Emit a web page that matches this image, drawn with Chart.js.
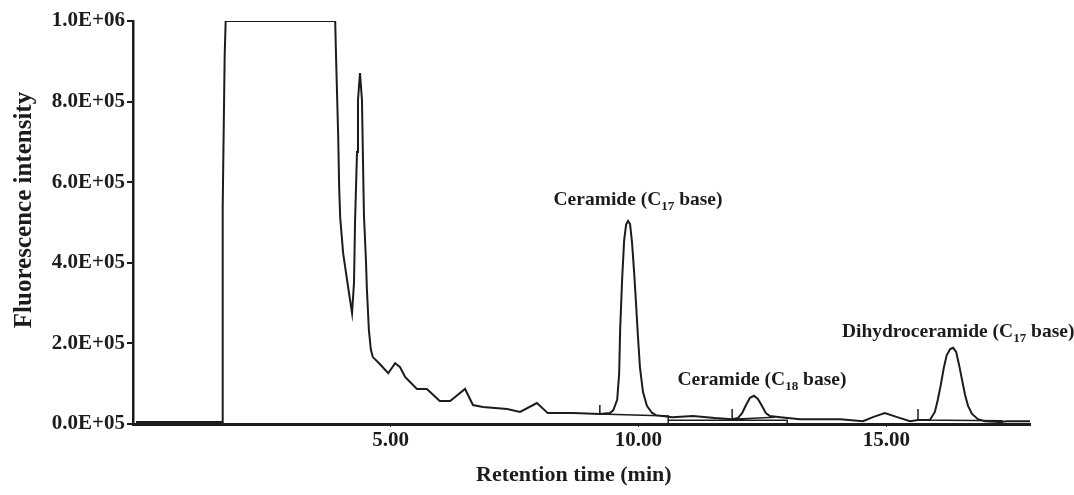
<!DOCTYPE html>
<html>
<head>
<meta charset="utf-8">
<script src="https://cdn.jsdelivr.net/npm/chart.js@4.4.1/dist/chart.umd.min.js"></script>
<style>
  html, body { margin: 0; padding: 0; background: #fff; }
</style>
</head>
<body>
<canvas id="chart" width="1074" height="495"></canvas>
<script>
// retention time (min) and fluorescence signal of the trace
const times = [-0.14, 1.60, 1.61, 1.65, 1.67, 3.88, 3.90, 3.94, 3.96, 3.98, 4.04, 4.14, 4.22, 4.26, 4.28, 4.32, 4.34, 4.38, 4.42, 4.44,
  4.46, 4.50, 4.52, 4.56, 4.60, 4.64, 4.78, 4.95, 5.09, 5.19, 5.29, 5.53, 5.73, 5.99, 6.20, 6.30, 6.50, 6.66, 6.86, 7.35,
  7.61, 7.95, 8.17, 8.68, 9.22, 9.42, 9.49, 9.57, 9.61, 9.63, 9.67, 9.71, 9.75, 9.79, 9.83, 9.87, 9.91, 9.95, 9.99, 10.03,
  10.09, 10.17, 10.27, 10.35, 10.68, 11.10, 11.54, 11.89, 12.01, 12.09, 12.17, 12.25, 12.33, 12.41, 12.49, 12.57, 12.65, 12.86, 13.26, 14.07,
  14.53, 14.73, 14.97, 15.22, 15.48, 15.64, 15.88, 15.98, 16.04, 16.10, 16.16, 16.22, 16.29, 16.35, 16.41, 16.47, 16.53, 16.59, 16.65, 16.73,
  16.85, 16.99, 17.29, 17.44, 17.90];
const intensity = [5000, 5000, 540000, 915000, 1000000, 1000000, 898000, 717000, 588000, 514000, 424000, 340000, 275000, 352000, 499000, 675000, 804000, 871000, 804000, 660000,
  519000, 407000, 333000, 233000, 184000, 166000, 149000, 126000, 151000, 141000, 117000, 87000, 87000, 57000, 57000, 67000, 87000, 47000, 42000, 37000,
  30000, 52000, 27000, 27000, 25000, 27000, 34000, 60000, 125000, 235000, 360000, 455000, 495000, 504000, 496000, 450000, 380000, 300000, 215000, 140000,
  80000, 45000, 28000, 22000, 17000, 20000, 15000, 12000, 15000, 27000, 47000, 65000, 70000, 62000, 45000, 27000, 20000, 17000, 12000, 12000,
  7000, 17000, 27000, 17000, 7000, 10000, 10000, 30000, 60000, 97000, 139000, 171000, 186000, 189000, 179000, 146000, 109000, 72000, 45000, 25000,
  12000, 7000, 5000, 7000, 7000];

// integration events: markers, baselines and drop lines (null = break)
const eventTimes = [9.22, 9.22, 10.60, 10.60, 10.60, 10.60, 13.00, 13.00, 13.00, 11.89, 11.89, 12.75, 12.75, 15.64, 15.64, 17.33, 17.33];
const eventValues = [47000, 25000, 20000, 0, null, 9000, 9000, 0, null, 37000, 12000, 17000, null, 37000, 10000, 8000, 0];

// axes
const xMin = -0.2;
const xMax = 17.9;
const xTicks = [5, 10, 15];
const yTicks = [0, 200000, 400000, 600000, 800000, 1000000];
const yTickLabels = ['0.0E+05', '2.0E+05', '4.0E+05', '6.0E+05', '8.0E+05', '1.0E+06'];

// peak labels
const labelTimes = [9.99, 12.49, 16.45];
const labelValues = [543000, 97000, 216000];
const labelMain = ['Ceramide (C', 'Ceramide (C', 'Dihydroceramide (C'];
const labelSub = ['17', '18', '17'];
const labelTail = [' base)', ' base)', ' base)'];

const serif = '"Liberation Serif", "Times New Roman", serif';
const ink = '#1c1c1c';

const peakLabels = {
    id: 'peakLabels',
    afterDatasetsDraw(chart) {
        const ctx = chart.ctx;
        const x = chart.scales.x;
        const y = chart.scales.y;
        const big = 'bold 19.5px ' + serif;
        const small = 'bold 13px ' + serif;
        ctx.save();
        ctx.fillStyle = ink;
        ctx.textBaseline = 'alphabetic';
        ctx.textAlign = 'left';
        labelTimes.forEach((t, i) => {
            const parts = [[labelMain[i], big, 0], [labelSub[i], small, 5], [labelTail[i], big, 0]];
            let total = 0;
            parts.forEach(p => { ctx.font = p[1]; total += ctx.measureText(p[0]).width; });
            let px = x.getPixelForValue(t) - total / 2;
            const py = y.getPixelForValue(labelValues[i]);
            parts.forEach(p => {
                ctx.font = p[1];
                ctx.fillText(p[0], px, py + p[2]);
                px += ctx.measureText(p[0]).width;
            });
        });
        ctx.restore();
    }
};

const trace = times.map((t, i) => ({ x: t, y: intensity[i] }));
const events = eventTimes.map((t, i) => ({ x: t, y: eventValues[i] }));

new Chart(document.getElementById('chart'), {
    type: 'scatter',
    data: {
        datasets: [{
            data: trace,
            showLine: true,
            borderColor: ink,
            borderWidth: 2,
            pointRadius: 0,
            tension: 0
        }, {
            data: events,
            showLine: true,
            spanGaps: false,
            borderColor: ink,
            borderWidth: 1.5,
            pointRadius: 0,
            tension: 0
        }]
    },
    options: {
        responsive: false,
        animation: false,
        layout: { padding: { top: 21, right: 44, left: 0, bottom: 0 } },
        plugins: {
            legend: { display: false },
            tooltip: { enabled: false }
        },
        scales: {
            x: {
                type: 'linear',
                min: xMin,
                max: xMax,
                afterBuildTicks: s => { s.ticks = xTicks.map(v => ({ value: v })); },
                afterFit: s => { s.height = 71; },
                border: { display: true, color: ink, width: 3 },
                grid: { drawOnChartArea: false, drawTicks: true, tickLength: 3, color: ink },
                ticks: {
                    padding: 1,
                    color: ink,
                    font: { family: serif, size: 21, weight: 'bold' },
                    callback: v => v.toFixed(2)
                },
                title: {
                    display: true,
                    text: 'Retention time (min)\u2002\u2009',
                    color: ink,
                    font: { family: serif, size: 22, weight: 'bold' },
                    padding: { top: 0, bottom: 6 }
                }
            },
            y: {
                min: 0,
                max: 1000000,
                afterBuildTicks: s => { s.ticks = yTicks.map(v => ({ value: v })); },
                afterFit: s => { s.width = 133; },
                border: { display: true, color: ink, width: 2.5 },
                grid: { drawOnChartArea: false, drawTicks: true, tickLength: 6, color: ink, lineWidth: 2 },
                ticks: {
                    padding: 2,
                    color: ink,
                    font: { family: serif, size: 21, weight: 'bold' },
                    callback: (v, i) => yTickLabels[i]
                },
                title: {
                    display: true,
                    text: '\u2002\u2002Fluorescence intensity',
                    color: ink,
                    font: { family: serif, size: 25, weight: 'bold' },
                    padding: { top: 10, bottom: 0 }
                }
            }
        }
    },
    plugins: [peakLabels]
});
</script>
</body>
</html>
